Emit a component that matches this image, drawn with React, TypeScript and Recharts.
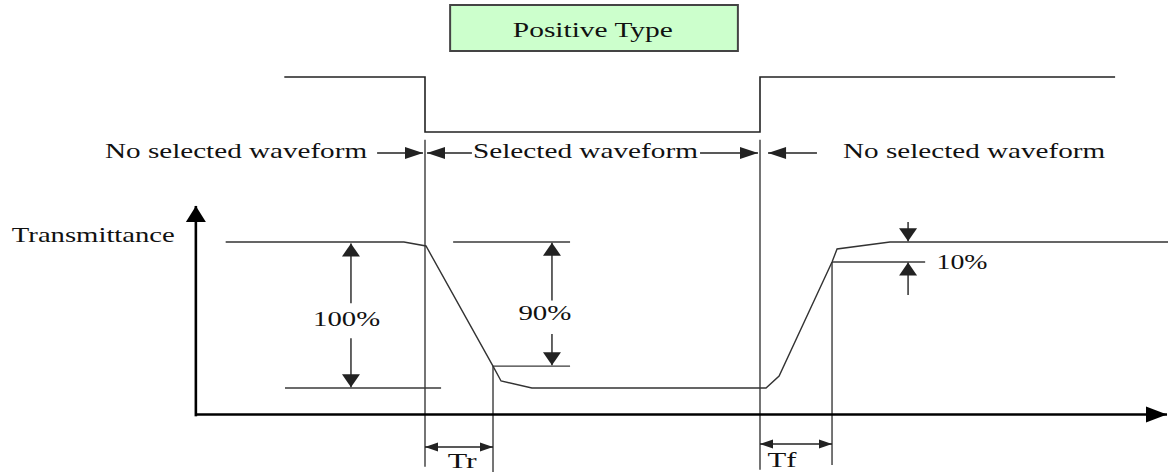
import { ComposedChart, Line, XAxis, YAxis, ReferenceLine, ReferenceDot, ReferenceArea } from "recharts";

// selection (drive) signal: time vs level (1 = high, 0 = low)
const signalTime = [-42, 0, 0, 100, 100, 206];
const signalLevel = [1, 1, 0, 0, 1, 1];

// optical response: time vs transmittance (%)
const transTime = [-59.5, -6.3, 0.3, 20.3, 22.7, 31.9, 101.8, 105.7, 121.5, 123, 138.8, 221.8];
const transValue = [100, 100, 97.3, 15, 4.8, 0, 0, 8.2, 86.3, 95.2, 100, 100];

// key instants and levels used for the annotations
const tOn = 0;
const tRiseEnd = 20.3;
const tOff = 100;
const tFallEnd = 121.5;
const levelLow90 = 15;
const levelHigh10 = 86.3;

const W = 1171;
const H = 475;
const FONT = "'Liberation Serif', 'Times New Roman', serif";

// axis placement (px per unit) so the hidden axes span the whole picture
const X0 = 425, XK = 3.35;
const T0 = 388, TK = 1.46;
const S0 = 132, SK = 55;
const xDomain = [-X0 / XK, (W - X0) / XK];
const tDomain = [(T0 - H) / TK, T0 / TK];
const sDomain = [(S0 - H) / SK, S0 / SK];

const signalData = signalTime.map((t, i) => ({ t, v: signalLevel[i] }));
const transData = transTime.map((t, i) => ({ t, v: transValue[i] }));

type ArrowOpt = { start?: boolean; end?: boolean; len?: number; half?: number; width?: number; color?: string };

function arrow({ start = false, end = false, len = 13, half = 9, width = 1.4, color = "#222" }: ArrowOpt) {
  return (p: any) => {
    const { x1, y1, x2, y2 } = p;
    const L = Math.hypot(x2 - x1, y2 - y1) || 1;
    const ux = (x2 - x1) / L;
    const uy = (y2 - y1) / L;
    const head = (tx: number, ty: number, dx: number, dy: number) => {
      const bx = tx - dx * len;
      const by = ty - dy * len;
      const nx = -dy * half;
      const ny = dx * half;
      return `${tx},${ty} ${bx + nx},${by + ny} ${bx - nx},${by - ny}`;
    };
    return (
      <g>
        <line x1={x1} y1={y1} x2={x2} y2={y2} stroke={color} strokeWidth={width} />
        {end && <polygon points={head(x2, y2, ux, uy)} fill={color} />}
        {start && <polygon points={head(x1, y1, -ux, -uy)} fill={color} />}
      </g>
    );
  };
}

function label(text: string, len: number, size = 21) {
  return (p: any) => (
    <text
      x={p.cx}
      y={p.cy}
      textAnchor="middle"
      dominantBaseline="central"
      fontFamily={FONT}
      fontSize={size}
      textLength={len}
      lengthAdjust="spacingAndGlyphs"
      fill="#111"
    >
      {text}
    </text>
  );
}

const rowY = 162.5;
const arrowRowY = 161;
const axisT = -68.4;
const axisV = -18.2;

const guides = [
  { a: [tOn, 170], b: [tOn, -54] },
  { a: [tOff, 170], b: [tOff, -56] },
  { a: [tRiseEnd, levelLow90], b: [tRiseEnd, -57.5] },
  { a: [tFallEnd, levelHigh10], b: [tFallEnd, -52.7] },
  { a: [-41.8, 0], b: [4.8, 0] },
  { a: [8.4, 100], b: [43.3, 100] },
  { a: [tRiseEnd, levelLow90], b: [43.3, levelLow90] },
  { a: [tFallEnd, levelHigh10], b: [149.3, levelHigh10] },
];

const arrows: { a: number[]; b: number[]; opt: ArrowOpt }[] = [
  { a: [axisT, -19.4], b: [axisT, 124.7], opt: { end: true, len: 16, half: 10, width: 2.6, color: "#000" } },
  { a: [axisT, axisV], b: [221.5, axisV], opt: { end: true, len: 21, half: 8, width: 2.6, color: "#000" } },
  { a: [-22.1, 58], b: [-22.1, 99], opt: { end: true } },
  { a: [-22.1, 34], b: [-22.1, 0.5], opt: { end: true } },
  { a: [37.9, 60], b: [37.9, 99.5], opt: { end: true } },
  { a: [37.9, 37], b: [37.9, 15.5], opt: { end: true } },
  { a: [144.2, 113.7], b: [144.2, 100.5], opt: { end: true } },
  { a: [144.2, 63.7], b: [144.2, 86], opt: { end: true } },
  { a: [tOn, -40.4], b: [tRiseEnd, -40.4], opt: { start: true, end: true, len: 13, half: 4.5 } },
  { a: [tOff, -38.4], b: [tFallEnd, -38.4], opt: { start: true, end: true, len: 13, half: 4.5 } },
  { a: [-14.3, arrowRowY], b: [-0.6, arrowRowY], opt: { end: true, len: 18, half: 6 } },
  { a: [14, arrowRowY], b: [0.6, arrowRowY], opt: { end: true, len: 18, half: 6 } },
  { a: [82.1, arrowRowY], b: [99.4, arrowRowY], opt: { end: true, len: 18, half: 6 } },
  { a: [117, arrowRowY], b: [102.4, arrowRowY], opt: { end: true, len: 18, half: 6 } },
];

const texts = [
  { t: -56.4, v: rowY, text: "No selected waveform", len: 262, size: 21 },
  { t: 47.9, v: rowY, text: "Selected waveform", len: 225, size: 21 },
  { t: 163.9, v: rowY, text: "No selected waveform", len: 262, size: 21 },
  { t: -99, v: 104.8, text: "Transmittance", len: 163, size: 21 },
  { t: -23.4, v: 47, text: "100%", len: 67, size: 21 },
  { t: 35.8, v: 51.4, text: "90%", len: 53, size: 21 },
  { t: 160.3, v: 86, text: "10%", len: 51, size: 21 },
  { t: 11.1, v: -50.3, text: "Tr", len: 29, size: 20 },
  { t: 106.6, v: -49.6, text: "Tf", len: 29, size: 20 },
  { t: 50.1, v: 244.9, text: "Positive Type", len: 160, size: 21 },
];

export default function App() {
  return (
    <div style={{ position: "absolute", left: 0, top: 0, width: W, height: H, background: "#fff" }}>
      <ComposedChart width={W} height={H} margin={{ top: 0, right: 0, bottom: 0, left: 0 }}>
        <XAxis dataKey="t" type="number" domain={xDomain} allowDataOverflow hide />
        <YAxis yAxisId="T" type="number" domain={tDomain} allowDataOverflow hide />
        <YAxis yAxisId="S" type="number" domain={sDomain} allowDataOverflow hide />

        <ReferenceArea
          yAxisId="T"
          x1={7.5}
          x2={93.4}
          y1={230.8}
          y2={262.3}
          fill="#ccffcc"
          fillOpacity={1}
          stroke="#444"
          strokeWidth={2}
          ifOverflow="visible"
        />

        {guides.map((g, i) => (
          <ReferenceLine
            key={`g${i}`}
            yAxisId="T"
            segment={[{ x: g.a[0], y: g.a[1] }, { x: g.b[0], y: g.b[1] }]}
            stroke="#3a3a3a"
            strokeWidth={1.4}
            ifOverflow="visible"
          />
        ))}

        <Line
          data={signalData}
          dataKey="v"
          yAxisId="S"
          type="linear"
          dot={false}
          activeDot={false}
          stroke="#222"
          strokeWidth={1.6}
          isAnimationActive={false}
        />
        <Line
          data={transData}
          dataKey="v"
          yAxisId="T"
          type="linear"
          dot={false}
          activeDot={false}
          stroke="#333"
          strokeWidth={1.4}
          strokeLinecap="butt"
          isAnimationActive={false}
        />

        {arrows.map((a, i) => (
          <ReferenceLine
            key={`a${i}`}
            yAxisId="T"
            segment={[{ x: a.a[0], y: a.a[1] }, { x: a.b[0], y: a.b[1] }]}
            ifOverflow="visible"
            shape={arrow(a.opt)}
          />
        ))}

        {texts.map((l, i) => (
          <ReferenceDot
            key={`t${i}`}
            yAxisId="T"
            x={l.t}
            y={l.v}
            r={0}
            ifOverflow="visible"
            shape={label(l.text, l.len, l.size)}
          />
        ))}
      </ComposedChart>
    </div>
  );
}
